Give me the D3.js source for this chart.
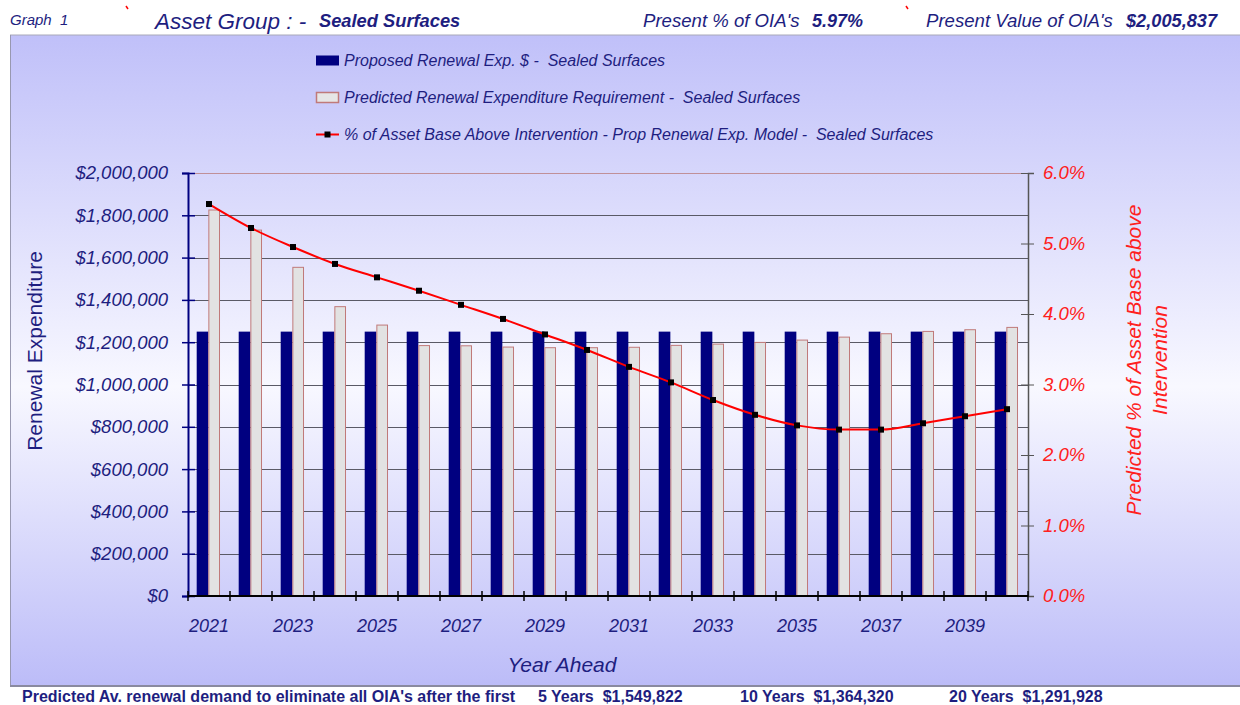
<!DOCTYPE html>
<html>
<head>
<meta charset="utf-8">
<script src="https://cdn.jsdelivr.net/npm/d3@7"></script>
<style>
  body { margin: 0; background: #fff; }
  svg { display: block; font-family: "Liberation Sans", Arial, sans-serif; }
  text { white-space: pre; }
</style>
</head>
<body>
<div id="chart"></div>
<script>
// Chart data
const years = d3.range(2021, 2041).map(String)
const proposed = [1250000, 1250000, 1250000, 1250000, 1250000, 1250000, 1250000, 1250000, 1250000, 1250000,
  1250000, 1250000, 1250000, 1250000, 1250000, 1250000, 1250000, 1250000, 1250000, 1250000]
const predicted = [1825000, 1730000, 1554000, 1368000, 1281000, 1184000, 1183000, 1177000, 1174000, 1174000,
  1176000, 1185000, 1191000, 1199000, 1210000, 1224000, 1240000, 1251000, 1259000, 1270000]
const pctAbove = [5.56, 5.22, 4.95, 4.71, 4.52, 4.33, 4.13, 3.93, 3.71, 3.49,
  3.25, 3.03, 2.78, 2.57, 2.42, 2.36, 2.36, 2.45, 2.55, 2.65]
const leftTicks = d3.range(0, 2000001, 200000)
const rightTicks = [0, 1, 2, 3, 4, 5, 6]
const legendItems = [
  "Proposed Renewal Exp. $ -  Sealed Surfaces",
  "Predicted Renewal Expenditure Requirement -  Sealed Surfaces",
  "% of Asset Base Above Intervention - Prop Renewal Exp. Model -  Sealed Surfaces",
]
const footer = [
  { x: 22, text: "Predicted Av. renewal demand to eliminate all OIA's after the first" },
  { x: 538, text: "5 Years  $1,549,822" },
  { x: 740, text: "10 Years  $1,364,320" },
  { x: 949, text: "20 Years  $1,291,928" },
]

const width = 1240
const height = 705
const navy = "#1e1e80"
const plot = { left: 188, right: 1028, top: 173, bottom: 596 }

const svg = d3.select("#chart").append("svg").attr("width", width).attr("height", height)

// Background gradient panel
const defs = svg.append("defs")
const grad = defs.append("linearGradient").attr("id", "bg").attr("x1", 0).attr("y1", 0).attr("x2", 0).attr("y2", 1)
grad.append("stop").attr("offset", "0%").attr("stop-color", "#c0c0f9")
grad.append("stop").attr("offset", "54%").attr("stop-color", "#f8f8ff")
grad.append("stop").attr("offset", "100%").attr("stop-color", "#bcbcf8")

svg.append("rect").attr("x", 10).attr("y", 35).attr("width", width - 10).attr("height", 651).attr("fill", "url(#bg)")
svg.append("line").attr("x1", 10).attr("x2", width).attr("y1", 35).attr("y2", 35).attr("stroke", "#a8a8b8")
svg.append("line").attr("x1", 10.5).attr("x2", 10.5).attr("y1", 35).attr("y2", 686).attr("stroke", "#9898b0")
svg.append("line").attr("x1", 10).attr("x2", width).attr("y1", 686).attr("y2", 686).attr("stroke", "#8a8aa0").attr("stroke-width", 2)

// Header
const header = svg.append("g").attr("fill", navy).attr("font-style", "italic")
header.append("text").attr("x", 10).attr("y", 25).attr("font-size", 15).text("Graph  1")
header.append("text").attr("x", 155).attr("y", 29).attr("font-size", 22.5).text("Asset Group : -")
header.append("text").attr("x", 319).attr("y", 27).attr("font-size", 18.3).attr("font-weight", "bold").text("Sealed Surfaces")
header.append("text").attr("x", 643).attr("y", 27).attr("font-size", 18.6).text("Present % of OIA's")
header.append("text").attr("x", 812).attr("y", 27).attr("font-size", 18).attr("font-weight", "bold").text("5.97%")
header.append("text").attr("x", 926).attr("y", 27).attr("font-size", 18.6).text("Present Value of OIA's")
header.append("text").attr("x", 1126).attr("y", 27).attr("font-size", 18.2).attr("font-weight", "bold").text("$2,005,837")
svg.append("line").attr("x1", 126).attr("y1", 6).attr("x2", 128).attr("y2", 9).attr("stroke", "red").attr("stroke-width", 1.5)
svg.append("line").attr("x1", 906).attr("y1", 6).attr("x2", 908).attr("y2", 9).attr("stroke", "red").attr("stroke-width", 1.5)

// Scales
const x = d3.scaleBand().domain(years).range([plot.left, plot.right]).padding(0)
const bw = x.bandwidth()
const x1 = d3.scaleBand().domain(["proposed", "predicted"]).range([bw * 0.207, bw * 0.762]).padding(0)
const y = d3.scaleLinear().domain([0, 2000000]).range([plot.bottom, plot.top])
const y2 = d3.scaleLinear().domain([0, 6]).range([plot.bottom, plot.top])

// Gridlines
svg.append("g")
  .selectAll("line")
  .data(leftTicks.filter((d) => d > 0))
  .join("line")
  .attr("x1", plot.left)
  .attr("x2", plot.right)
  .attr("y1", (d) => Math.round(y(d)) + 0.5)
  .attr("y2", (d) => Math.round(y(d)) + 0.5)
  .attr("stroke", (d) => (d === 2000000 ? "#c09098" : "#5a5a66"))
  .attr("stroke-width", 1.2)

// Bars
const groups = svg.append("g").selectAll("g").data(years).join("g").attr("transform", (d) => `translate(${x(d)},0)`)
groups
  .append("rect")
  .attr("x", x1("proposed"))
  .attr("width", x1.bandwidth())
  .attr("y", (d, i) => y(proposed[i]))
  .attr("height", (d, i) => y(0) - y(proposed[i]))
  .attr("fill", "#000080")
groups
  .append("rect")
  .attr("x", x1("predicted") + 0.5)
  .attr("width", x1.bandwidth() - 1)
  .attr("y", (d, i) => y(predicted[i]))
  .attr("height", (d, i) => y(0) - y(predicted[i]))
  .attr("fill", "#e2e2e2")
  .attr("stroke", "#c07a7a")
  .attr("stroke-width", 1)

// Left axis
const leftAxis = svg
  .append("g")
  .attr("transform", `translate(${plot.left},0)`)
  .call(d3.axisLeft(y).tickValues(leftTicks).tickSize(6).tickPadding(14).tickFormat((d) => "$" + d3.format(",")(d)))
leftAxis.select(".domain").attr("stroke", "#000080").attr("stroke-width", 2)
leftAxis.selectAll(".tick line").attr("stroke", "#000080").attr("stroke-width", 1.5).attr("x2", 7).attr("x1", -6)
leftAxis.selectAll(".tick text").attr("fill", navy).attr("font-size", 18.5).attr("font-style", "italic").attr("font-family", "Liberation Sans, Arial, sans-serif")

// Right axis
const rightAxis = svg
  .append("g")
  .attr("transform", `translate(${plot.right},0)`)
  .call(d3.axisRight(y2).tickValues(rightTicks).tickSize(6).tickPadding(9).tickFormat((d) => d.toFixed(1) + "%"))
rightAxis.select(".domain").attr("stroke", "#555").attr("stroke-width", 1.5)
rightAxis.selectAll(".tick line").attr("stroke", "#555").attr("x1", -7).attr("x2", 6)
rightAxis.selectAll(".tick text").attr("fill", "#ff2020").attr("font-size", 18.5).attr("font-style", "italic").attr("font-family", "Liberation Sans, Arial, sans-serif")

// Bottom axis
const bottom = svg.append("g").attr("transform", `translate(0,${plot.bottom})`)
bottom.append("line").attr("x1", plot.left).attr("x2", plot.right).attr("stroke", "#000").attr("stroke-width", 2)
bottom
  .selectAll("line.tick")
  .data(years.concat(["end"]))
  .join("line")
  .attr("class", "tick")
  .attr("x1", (d, i) => plot.left + i * bw)
  .attr("x2", (d, i) => plot.left + i * bw)
  .attr("y1", -5)
  .attr("y2", 5)
  .attr("stroke", "#000")
  .attr("stroke-width", 1.5)
bottom
  .selectAll("text")
  .data(years.filter((d, i) => i % 2 === 0))
  .join("text")
  .attr("x", (d) => x(d) + bw / 2)
  .attr("y", 36)
  .attr("text-anchor", "middle")
  .attr("fill", navy)
  .attr("font-size", 18)
  .attr("font-style", "italic")
  .text((d) => d)

// Line series
const line = d3
  .line()
  .x((d, i) => x(years[i]) + bw / 2)
  .y((d) => y2(d))
  .curve(d3.curveMonotoneX)
svg.append("path").datum(pctAbove).attr("d", line).attr("fill", "none").attr("stroke", "#ff0000").attr("stroke-width", 2)
svg
  .append("g")
  .selectAll("rect")
  .data(pctAbove)
  .join("rect")
  .attr("x", (d, i) => x(years[i]) + bw / 2 - 3)
  .attr("y", (d) => y2(d) - 3)
  .attr("width", 6)
  .attr("height", 6)
  .attr("fill", "#000")

// Axis titles
svg
  .append("text")
  .attr("transform", "translate(42,351) rotate(-90)")
  .attr("text-anchor", "middle")
  .attr("fill", navy)
  .attr("font-size", 21)
  .text("Renewal Expenditure")
svg
  .append("text")
  .attr("x", 562)
  .attr("y", 672)
  .attr("text-anchor", "middle")
  .attr("fill", navy)
  .attr("font-size", 21)
  .attr("font-style", "italic")
  .text("Year Ahead")
const rTitle = svg
  .append("text")
  .attr("transform", "translate(1141,360) rotate(-90)")
  .attr("text-anchor", "middle")
  .attr("fill", "#ff2020")
  .attr("font-size", 21)
  .attr("font-style", "italic")
rTitle.append("tspan").attr("x", 0).attr("y", 0).text("Predicted % of Asset Base above")
rTitle.append("tspan").attr("x", 0).attr("y", 26).text("Intervention")

// Legend
const legend = svg.append("g").selectAll("g").data(legendItems).join("g").attr("transform", (d, i) => `translate(316,${60.5 + i * 37})`)
legend
  .filter((d, i) => i === 0)
  .append("rect")
  .attr("x", 0)
  .attr("y", -5)
  .attr("width", 23)
  .attr("height", 10)
  .attr("fill", "#000080")
legend
  .filter((d, i) => i === 1)
  .append("rect")
  .attr("x", 0.5)
  .attr("y", -5)
  .attr("width", 22)
  .attr("height", 10)
  .attr("fill", "#e6e6e6")
  .attr("stroke", "#c07a7a")
  .attr("stroke-width", 1.5)
const lineItem = legend.filter((d, i) => i === 2)
lineItem.append("line").attr("x1", 0).attr("x2", 23).attr("stroke", "#ff0000").attr("stroke-width", 2)
lineItem.append("rect").attr("x", 8.5).attr("y", -3).attr("width", 6).attr("height", 6).attr("fill", "#000")
legend
  .append("text")
  .attr("x", 28)
  .attr("dy", "0.35em")
  .attr("fill", navy)
  .attr("font-size", 16)
  .attr("font-style", "italic")
  .text((d) => d)

// Footer
svg
  .append("g")
  .selectAll("text")
  .data(footer)
  .join("text")
  .attr("x", (d) => d.x)
  .attr("y", 702)
  .attr("fill", navy)
  .attr("font-size", 16)
  .attr("font-weight", "bold")
  .text((d) => d.text)
</script>
</body>
</html>
